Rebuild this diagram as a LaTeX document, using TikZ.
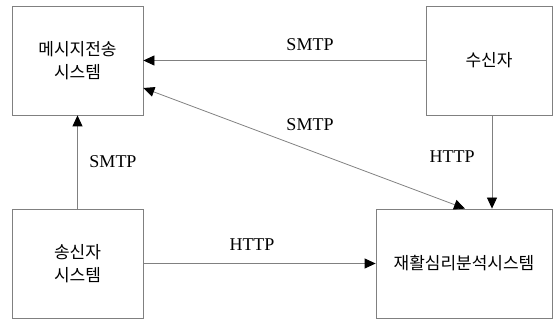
\documentclass[tikz,border=0pt]{standalone}
\usepackage{fontspec}
\setmainfont{Liberation Serif}
\newfontfamily\kr{Noto Sans CJK KR}
\usetikzlibrary{arrows.meta}
\definecolor{ln}{RGB}{128,128,128}
\begin{document}
\begin{tikzpicture}[x=1pt,y=-1pt,
  box/.style={draw=ln,line width=0.8pt,minimum width=131pt,minimum height=109pt,inner sep=0pt,align=center,font=\kr\fontsize{17}{23}\selectfont},
  conn/.style={draw=ln,line width=0.8pt,-{Triangle[length=11pt,width=10pt,color=black]}},
  lbl/.style={font=\fontsize{18}{20}\selectfont}]
\useasboundingbox (0,0) rectangle (553,320);
\node[box] (A) at (77.5,60.5) {메시지전송\\시스템};
\node[box,minimum width=126pt] (B) at (489,60.5) {수신자};
\node[box] (C) at (77.5,263.5) {송신자\\시스템};
\node[box,minimum width=176pt] (D) at (464,263.5) {재활심리분석시스템};
\draw[conn] (B.west) -- (A.east);
\draw[conn] (C.north) -- (A.south);
\draw[conn] (C.east) -- (D.west);
\draw[conn] ([xshift=3pt]B.south) -- ([xshift=3pt]B.south |- D.north);
\draw[conn,{Triangle[length=11pt,width=10pt,color=black]}-{Triangle[length=11pt,width=10pt,color=black]}] ([yshift=-27.5pt]A.east) -- ([xshift=1pt]D.north);
\node[lbl] (l1) at (310,45) {SMTP};
\node[lbl] (l2) at (310,125) {SMTP};
\node[lbl] (l3) at (452,157) {HTTP};
\node[lbl] (l4) at (113,162) {SMTP};
\node[lbl] (l5) at (252,245) {HTTP};
\end{tikzpicture}
\end{document}
